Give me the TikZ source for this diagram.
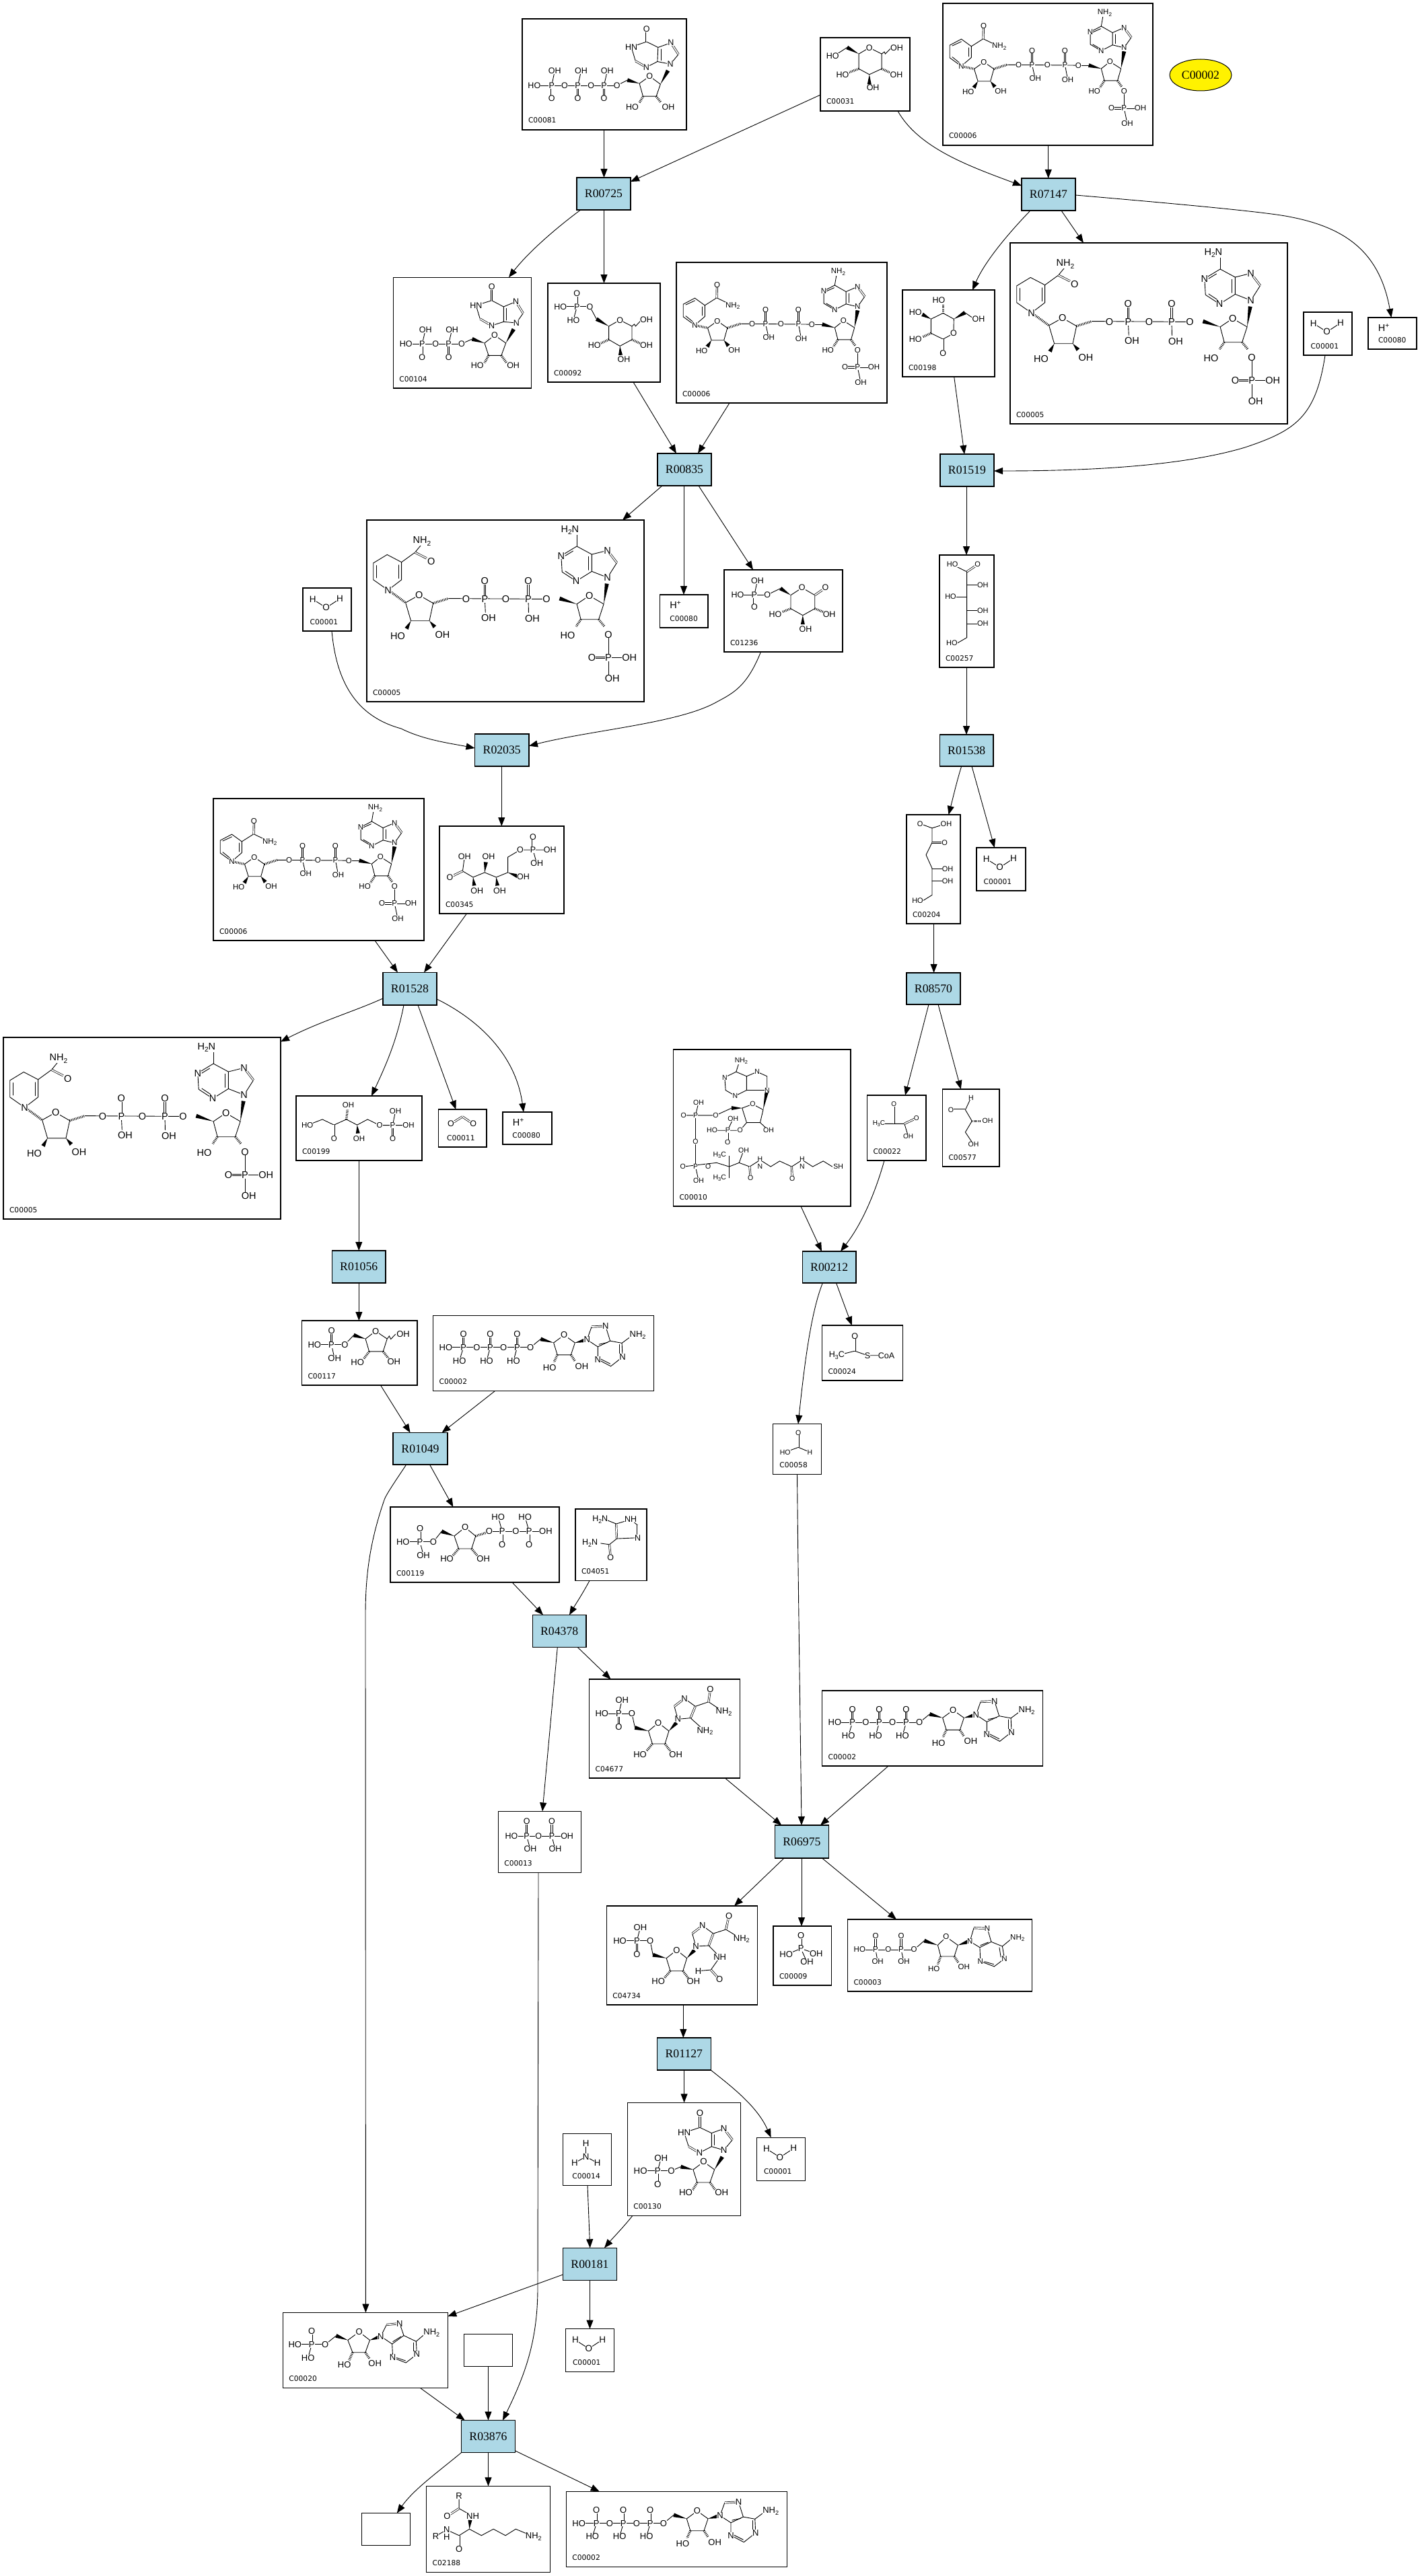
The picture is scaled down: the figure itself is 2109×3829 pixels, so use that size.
\documentclass[tikz,border=0pt]{standalone}
\usepackage{fontspec}
\usetikzlibrary{arrows.meta,calc,shapes.geometric}
\setmainfont{Liberation Serif}
\newfontfamily\atomfont{Liberation Sans}
\newfontfamily\labelfont{DejaVu Sans}
\definecolor{rxblue}{RGB}{173,216,230}
\newcount\atmc
\def\molfs{13}
\tikzset{
  bd/.style={line width=.9pt,line cap=round},
  dbd/.style={line width=.7pt,double,double distance=1.7pt},
  hashb/.style={line width=3.4pt,dash pattern=on .9pt off 1.5pt},
  atom/.style={inner sep=.2pt,outer sep=0pt,fill=white,font=\atomfont\fontsize{\molfs}{\molfs}\selectfont},
  cbox/.style={draw=black,fill=white,line width=1.1pt,inner sep=0pt,outer sep=0pt,rectangle},
  clabel/.style={inner sep=0pt,outer sep=0pt,anchor=base west,font=\labelfont\fontsize{10.7}{10.7}\selectfont},
  rxn/.style={draw=black,fill=rxblue,line width=1.1pt,inner sep=0pt,outer sep=0pt,rectangle,font=\fontsize{17.7}{17.7}\selectfont},
  edge/.style={draw=black,line width=.9pt,-{Triangle[length=13pt,width=10pt]}},
}
\newcommand\two{\raisebox{-.22em}{\scalebox{.7}{2}}}
\newcommand\thre{\raisebox{-.22em}{\scalebox{.7}{3}}}
\newcommand\plusup{\raisebox{.4em}{\scalebox{.7}{+}}}
\newcommand\bnd[1]{\draw[bd] #1;}
\newcommand\dbl[2]{\draw[dbd] #1 -- #2;}
\newcommand\hsh[2]{\draw[hashb] #1 -- #2;}
\newcommand\wdg[2]{\fill[black] #1 -- ($#2!3pt!90:#1$) -- ($#2!3pt!-90:#1$) -- cycle;}
\newcommand\atm[3]{\global\advance\atmc by 1 \node[atom] (at\the\atmc) at (#1,#2) {#3};}
\newcommand\Mol[8]{\def\molfs{#7}\pgfmathsetmacro\mx{1/#3}\pgfmathsetmacro\my{-1/#4}%
  \begin{scope}[shift={(#1,#2)},x=\mx pt,y=\my pt,shift={(-#5,-#6)}]#8\end{scope}}
\newcommand\cbox[7][9]{\pgfmathsetmacro\cx{(#3+#5)/2}\pgfmathsetmacro\cy{(#4+#6)/2}%
  \pgfmathsetmacro\cw{#5-#3}\pgfmathsetmacro\ch{#6-#4}\pgfmathsetmacro\lx{#3+#1}\pgfmathsetmacro\ly{#6-10}%
  \node[cbox,minimum width=\cw pt,minimum height=\ch pt] (#2) at (\cx,\cy) {};
  \node[clabel] (#2l) at (\lx,\ly) {#7};}
\newcommand\rbox[6]{\pgfmathsetmacro\cx{(#2+#4)/2}\pgfmathsetmacro\cy{(#3+#5)/2}%
  \pgfmathsetmacro\cw{#4-#2}\pgfmathsetmacro\ch{#5-#3}%
  \node[rxn,minimum width=\cw pt,minimum height=\ch pt] (#1) at (\cx,\cy) {#6};}
\newcommand\vv[4]{\draw[edge] (#1.south -| #2,0) -- (#3.north -| #4,0);}
% ---------- molecule bodies (coordinates of one zoomed copy)
\newcommand\NADbody{%
 \bnd{(68,163)--(105,141)--(137,167)--(137,207)--(105,238)--(68,208)--cycle}
 \bnd{(76,165)--(105,150)}\bnd{(128,172)--(128,203)}\bnd{(76,205)--(98,225)}
 \bnd{(137,167)--(175,140)--(226,168)}\dbl{(175,140)}{(176,93)}
 \bnd{(177,223)--(146,248)--(158,292)--(198,292)--(209,248)--cycle}
 \hsh{(105,238)}{(146,248)}\hsh{(209,248)}{(250,233)}
 \wdg{(158,292)}{(145,315)}\wdg{(198,292)}{(212,312)}
 \bnd{(250,233)--(479,235)}\bnd{(331,233)--(341,283)}\bnd{(436,233)--(445,286)}
 \dbl{(331,233)}{(331,182)}\dbl{(436,233)}{(436,182)}
 \wdg{(552,247)}{(512,235)}\bnd{(479,235)--(512,235)}
 \bnd{(580,222)--(552,247)--(562,290)--(604,290)--(615,247)--cycle}
 \wdg{(615,247)}{(625,185)}\hsh{(562,290)}{(548,315)}\hsh{(604,290)}{(618,313)}
 \bnd{(625,327)--(625,389)--(677,389)}\bnd{(625,389)--(635,443)}\dbl{(625,389)}{(585,389)}
 \bnd{(625,172)--(648,135)}\dbl{(648,135)}{(625,100)}\bnd{(625,100)--(588,118)--(588,162)--(625,172)}\bnd{(598,124)--(598,157)}
 \bnd{(588,118)--(552,95)--(517,115)--(517,160)--(552,183)--(588,162)}\bnd{(552,95)--(558,55)}
 \bnd{(525,160)--(548,175)}\bnd{(550,104)--(526,116)}
 \atm{176}{93}{O}\atm{226}{168}{NH\two}\atm{105}{238}{N}\atm{177}{223}{O}\atm{127}{329}{HO}\atm{231}{327}{OH}
 \atm{288}{233}{O}\atm{331}{233}{P}\atm{380}{233}{O}\atm{436}{233}{P}\atm{479}{235}{O}
 \atm{331}{182}{O}\atm{436}{182}{O}\atm{341}{283}{OH}\atm{445}{286}{OH}\atm{580}{222}{O}
 \atm{530}{327}{HO}\atm{625}{327}{O}\atm{625}{389}{P}\atm{585}{389}{O}\atm{677}{389}{OH}\atm{635}{443}{OH}
 \atm{625}{172}{N}\atm{625}{100}{N}\atm{552}{183}{N}\atm{517}{115}{N}\atm{563}{47}{NH\two}}
\newcommand\NADHbody{%
 \bnd{(326,993)--(282,1023)--(282,1083)--(329,1120)--(372,1083)--(372,1020)--cycle}
 \bnd{(291,1032)--(291,1076)}\bnd{(362,1030)--(362,1078)}
 \bnd{(372,1020)--(415,985)--(437,955)}\dbl{(415,985)}{(452,1006)}
 \hsh{(340,1128)}{(385,1165)}
 \bnd{(428,1138)--(385,1165)--(402,1230)--(461,1230)--(473,1167)--cycle}
 \hsh{(473,1167)}{(522,1150)}\wdg{(402,1230)}{(388,1258)}\wdg{(461,1230)}{(478,1252)}
 \bnd{(522,1150)--(835,1152)}\bnd{(638,1152)--(640,1200)}\bnd{(777,1152)--(778,1200)}
 \dbl{(638,1152)}{(638,1100)}\dbl{(777,1152)}{(777,1100)}
 \wdg{(932,1170)}{(877,1150)}
 \bnd{(972,1140)--(932,1170)--(945,1225)--(1002,1225)--(1018,1170)--cycle}
 \wdg{(1018,1170)}{(1028,1097)}\hsh{(945,1225)}{(930,1250)}\hsh{(1002,1225)}{(1020,1250)}
 \bnd{(1033,1279)--(1033,1436)}\bnd{(1033,1362)--(1100,1362)}\dbl{(1033,1362)}{(980,1362)}
 \bnd{(1030,1075)--(1060,1022)}\dbl{(1060,1022)}{(1030,978)}\bnd{(1030,978)--(980,992)--(980,1053)--(1030,1075)}
 \bnd{(980,992)--(932,963)--(882,997)--(885,1055)--(930,1088)--(980,1053)}\bnd{(932,963)--(932,920)}
 \bnd{(970,1000)--(970,1048)}\bnd{(895,1052)--(922,1072)}\bnd{(920,980)--(895,997)}
 \atm{437}{945}{NH\two}\atm{467}{1018}{O}\atm{329}{1120}{N}\atm{428}{1138}{O}\atm{360}{1284}{HO}\atm{503}{1279}{OH}
 \atm{578}{1152}{O}\atm{638}{1152}{P}\atm{705}{1152}{O}\atm{777}{1152}{P}\atm{835}{1152}{O}
 \atm{638}{1086}{O}\atm{777}{1086}{O}\atm{650}{1220}{OH}\atm{790}{1222}{OH}\atm{972}{1140}{O}
 \atm{903}{1282}{HO}\atm{1033}{1279}{O}\atm{1033}{1362}{P}\atm{980}{1362}{O}\atm{1100}{1362}{OH}\atm{1045}{1436}{OH}
 \atm{1030}{1075}{N}\atm{1030}{978}{N}\atm{930}{1088}{N}\atm{882}{997}{N}\atm{910}{905}{H\two N}}
\newcommand\ATPbody{%
 \bnd{(528,224)--(802,224)}\bnd{(585,224)--(572,267)}\bnd{(672,224)--(660,267)}\bnd{(759,224)--(747,267)}
 \dbl{(585,224)}{(585,181)}\dbl{(672,224)}{(672,181)}\dbl{(759,224)}{(759,181)}
 \bnd{(802,224)--(835,197)}\wdg{(877,209)}{(835,197)}
 \bnd{(911,184)--(877,209)--(889,248)--(933,248)--(946,209)--cycle}
 \wdg{(946,209)}{(978,201)}\hsh{(889,248)}{(878,272)}\hsh{(933,248)}{(947,270)}
 \bnd{(985,199)--(1000,157)}\dbl{(1000,157)}{(1045,155)}\bnd{(1045,155)--(1060,203)--(1020,222)--(985,199)}\bnd{(1052,208)--(1024,214)}
 \bnd{(1060,203)--(1098,210)--(1100,255)--(1062,285)--(1020,263)--(1020,222)}\bnd{(1098,210)--(1125,190)}
 \bnd{(1030,262)--(1060,277)}\bnd{(1090,250)--(1090,215)}
 \atm{528}{224}{HO}\atm{585}{224}{P}\atm{628}{224}{O}\atm{672}{224}{P}\atm{715}{224}{O}\atm{759}{224}{P}\atm{802}{224}{O}
 \atm{585}{181}{O}\atm{672}{181}{O}\atm{759}{181}{O}\atm{572}{267}{HO}\atm{660}{267}{HO}\atm{747}{267}{HO}
 \atm{911}{184}{O}\atm{864}{290}{HO}\atm{968}{285}{OH}\atm{985}{199}{N}\atm{1045}{155}{N}\atm{1020}{263}{N}\atm{1100}{255}{N}\atm{1149}{185}{NH\two}}
\newcommand\ADPbody{%
 \bnd{(890,355)--(1071,355)}\bnd{(943,355)--(950,408)}\bnd{(1028,355)--(1037,408)}
 \dbl{(943,355)}{(943,295)}\dbl{(1028,355)}{(1028,295)}
 \bnd{(1071,355)--(1105,315)}\wdg{(1150,335)}{(1105,315)}
 \bnd{(1178,298)--(1150,335)--(1160,385)--(1205,385)--(1217,335)--cycle}
 \wdg{(1217,335)}{(1250,320)}\hsh{(1160,385)}{(1150,420)}\hsh{(1205,385)}{(1218,412)}
 \bnd{(1257,318)--(1270,258)}\dbl{(1270,258)}{(1315,260)}\bnd{(1315,260)--(1328,320)--(1290,345)--(1257,318)}\bnd{(1318,322)--(1292,336)}
 \bnd{(1328,320)--(1365,340)--(1372,395)--(1338,430)--(1292,407)--(1290,345)}\bnd{(1365,340)--(1392,310)}
 \bnd{(1305,408)--(1336,420)}\bnd{(1360,388)--(1355,345)}
 \atm{890}{355}{HO}\atm{943}{355}{P}\atm{985}{355}{O}\atm{1028}{355}{P}\atm{1071}{355}{O}\atm{943}{295}{O}\atm{1028}{295}{O}\atm{950}{408}{OH}\atm{1037}{408}{OH}
 \atm{1178}{298}{O}\atm{1137}{442}{HO}\atm{1237}{433}{OH}\atm{1257}{318}{N}\atm{1315}{260}{N}\atm{1292}{407}{N}\atm{1372}{395}{N}\atm{1415}{302}{NH\two}}
\newcommand\AMPbody{%
 \bnd{(75,667)--(163,667)}\bnd{(124,667)--(113,719)}\dbl{(124,667)}{(124,615)}
 \bnd{(163,667)--(195,633)}\wdg{(229,650)}{(195,633)}
 \bnd{(262,618)--(229,650)--(243,698)--(280,698)--(293,650)--cycle}
 \wdg{(293,650)}{(320,638)}\hsh{(243,698)}{(233,728)}\hsh{(280,698)}{(292,722)}
 \bnd{(325,635)--(342,590)}\dbl{(342,590)}{(380,585)}\bnd{(380,585)--(392,632)--(358,665)--(325,635)}\bnd{(384,636)--(360,656)}
 \bnd{(392,632)--(428,655)--(430,705)--(398,738)--(360,718)--(358,665)}\bnd{(428,655)--(450,630)}
 \bnd{(370,718)--(397,730)}\bnd{(420,700)--(420,660)}
 \atm{75}{667}{HO}\atm{124}{667}{P}\atm{163}{667}{O}\atm{124}{615}{O}\atm{113}{719}{HO}\atm{262}{618}{O}\atm{219}{746}{HO}\atm{308}{740}{OH}
 \atm{325}{635}{N}\atm{380}{585}{N}\atm{360}{718}{N}\atm{430}{705}{N}\atm{473}{622}{NH\two}}
\newcommand\ITPbody{%
 \bnd{(75,333)--(350,333)}\bnd{(133,333)--(143,277)}\bnd{(220,333)--(231,277)}\bnd{(307,333)--(318,277)}
 \dbl{(133,333)}{(133,384)}\dbl{(220,333)}{(220,384)}\dbl{(307,333)}{(307,384)}
 \bnd{(350,333)--(385,312)}\wdg{(425,325)}{(385,312)}
 \bnd{(459,297)--(425,325)--(437,375)--(481,375)--(495,328)--cycle}
 \wdg{(495,328)}{(520,275)}\hsh{(437,375)}{(425,400)}\hsh{(481,375)}{(497,400)}
 \bnd{(528,250)--(555,212)}\dbl{(555,212)}{(530,167)}\bnd{(530,167)--(487,185)--(485,240)--(528,250)}\bnd{(497,192)--(497,235)}
 \bnd{(487,185)--(449,163)--(398,183)--(412,238)}\dbl{(412,238)}{(448,262)}\bnd{(448,262)--(485,240)}\dbl{(449,163)}{(449,113)}
 \atm{75}{333}{HO}\atm{133}{333}{P}\atm{176}{333}{O}\atm{220}{333}{P}\atm{264}{333}{O}\atm{307}{333}{P}\atm{350}{333}{O}
 \atm{143}{277}{OH}\atm{231}{277}{OH}\atm{318}{277}{OH}\atm{133}{384}{O}\atm{220}{384}{O}\atm{307}{384}{O}
 \atm{459}{297}{O}\atm{401}{416}{HO}\atm{521}{416}{OH}\atm{528}{250}{N}\atm{530}{167}{N}\atm{448}{262}{N}\atm{398}{183}{HN}\atm{449}{113}{O}}
\newcommand\IDPbody{%
 \bnd{(100,333)--(348,333)}\bnd{(172,333)--(187,270)}\bnd{(290,333)--(305,270)}
 \dbl{(172,333)}{(172,393)}\dbl{(290,333)}{(290,393)}
 \bnd{(348,333)--(395,312)}\wdg{(450,330)}{(395,312)}
 \bnd{(495,295)--(450,330)--(468,385)--(525,385)--(545,330)--cycle}
 \wdg{(545,330)}{(580,268)}\hsh{(468,385)}{(450,418)}\hsh{(525,385)}{(548,418)}
 \bnd{(592,240)--(622,197)}\dbl{(622,197)}{(590,145)}\bnd{(590,145)--(535,168)--(535,235)--(592,240)}\bnd{(547,175)--(547,228)}
 \bnd{(535,168)--(482,140)--(412,162)--(430,222)}\dbl{(430,222)}{(482,252)}\bnd{(482,252)--(535,235)}\dbl{(482,140)}{(482,80)}
 \atm{100}{333}{HO}\atm{172}{333}{P}\atm{232}{333}{O}\atm{290}{333}{P}\atm{348}{333}{O}\atm{187}{270}{OH}\atm{305}{270}{OH}\atm{172}{393}{O}\atm{290}{393}{O}
 \atm{495}{295}{O}\atm{418}{430}{HO}\atm{578}{430}{OH}\atm{592}{240}{N}\atm{590}{145}{N}\atm{482}{252}{N}\atm{412}{162}{HN}\atm{482}{80}{O}}
\newcommand\IMPbody{%
 \bnd{(395,380)--(533,380)}\bnd{(472,380)--(487,323)}\dbl{(472,380)}{(472,440)}
 \bnd{(533,380)--(575,362)}\wdg{(630,375)}{(575,362)}
 \bnd{(677,340)--(630,375)--(648,432)--(705,432)--(725,375)--cycle}
 \wdg{(725,375)}{(760,318)}\hsh{(648,432)}{(628,465)}\hsh{(705,432)}{(728,465)}
 \bnd{(767,288)--(805,242)}\dbl{(805,242)}{(767,192)}\bnd{(767,192)--(712,212)--(712,272)--(767,288)}\bnd{(724,219)--(724,265)}
 \bnd{(712,212)--(660,187)--(590,210)--(610,272)}\dbl{(610,272)}{(658,300)}\bnd{(658,300)--(712,272)}\dbl{(660,187)}{(660,123)}
 \atm{395}{380}{HO}\atm{472}{380}{P}\atm{533}{380}{O}\atm{487}{323}{OH}\atm{472}{440}{O}\atm{677}{340}{O}\atm{597}{478}{HO}\atm{757}{478}{OH}
 \atm{767}{288}{N}\atm{767}{192}{N}\atm{658}{300}{N}\atm{590}{210}{HN}\atm{660}{123}{O}}
\newcommand\GLCbody{%
 \bnd{(1192,186)--(1157,210)--(1157,268)--(1192,290)--(1233,268)--(1233,210)--cycle}
 \wdg{(1157,210)}{(1118,185)}\bnd{(1118,185)--(1085,210)}
 \hsh{(1157,268)}{(1122,283)}\hsh{(1233,268)}{(1262,283)}\wdg{(1192,290)}{(1192,328)}
 \bnd{(1233,210)--(1242,202)--(1245,210)--(1262,190)}
 \atm{1070}{219}{HO}\atm{1192}{186}{O}\atm{1283}{186}{OH}\atm{1103}{291}{HO}\atm{1282}{291}{OH}\atm{1204}{342}{OH}}
\newcommand\GSPbody{%
 \bnd{(162,1192)--(260,1192)}\bnd{(217,1192)--(205,1244)}\dbl{(217,1192)}{(217,1140)}\bnd{(260,1192)--(282,1240)}\wdg{(323,1268)}{(282,1240)}
 \bnd{(360,1244)--(323,1268)--(323,1320)--(360,1345)--(400,1320)--(400,1268)--cycle}
 \hsh{(323,1320)}{(295,1335)}\hsh{(400,1320)}{(428,1335)}\wdg{(360,1345)}{(362,1380)}
 \bnd{(400,1268)--(408,1260)--(412,1268)--(428,1248)}
 \atm{162}{1192}{HO}\atm{217}{1192}{P}\atm{260}{1192}{O}\atm{217}{1140}{O}\atm{205}{1244}{HO}\atm{360}{1244}{O}\atm{448}{1242}{OH}\atm{275}{1343}{HO}\atm{448}{1342}{OH}\atm{373}{1396}{OH}}
\newcommand\GLAbody{%
 \bnd{(1472,1296)--(1437,1318)--(1397,1295)--(1397,1240)--(1437,1217)--(1473,1240)--cycle}
 \dbl{(1437,1318)}{(1437,1372)}\hsh{(1437,1217)}{(1437,1185)}\wdg{(1397,1240)}{(1368,1222)}\hsh{(1397,1295)}{(1368,1310)}
 \wdg{(1473,1240)}{(1510,1215)}\bnd{(1510,1215)--(1535,1235)}
 \atm{1472}{1296}{O}\atm{1437}{1372}{O}\atm{1423}{1166}{HO}\atm{1345}{1215}{HO}\atm{1345}{1317}{HO}\atm{1555}{1241}{OH}}
\newcommand\LACTbody{%
 \bnd{(1110,403)--(1197,403)}\bnd{(1159,403)--(1168,340)}\dbl{(1159,403)}{(1159,459)}\bnd{(1197,403)--(1235,375)}\wdg{(1265,405)}{(1235,375)}
 \bnd{(1298,372)--(1265,405)--(1265,465)--(1300,495)--(1335,465)--(1335,405)--cycle}
 \dbl{(1335,405)}{(1366,372)}\hsh{(1265,465)}{(1240,480)}\hsh{(1335,465)}{(1360,480)}\wdg{(1300,495)}{(1300,535)}
 \atm{1168}{340}{OH}\atm{1110}{403}{HO}\atm{1159}{403}{P}\atm{1197}{403}{O}\atm{1159}{459}{O}\atm{1298}{372}{O}\atm{1366}{372}{O}\atm{1220}{492}{HO}\atm{1377}{492}{OH}\atm{1308}{557}{OH}}
\newcommand\PGbody{%
 \bnd{(1203,249)--(1198,300)--(1225,322)--(1255,305)--(1285,322)--(1315,305)--(1315,250)--(1347,224)--(1424,224)}
 \dbl{(1198,300)}{(1165,322)}\bnd{(1380,224)--(1390,273)}\dbl{(1380,224)}{(1380,177)}
 \wdg{(1225,322)}{(1228,352)}\wdg{(1255,305)}{(1258,268)}\wdg{(1285,322)}{(1288,352)}\wdg{(1315,305)}{(1340,318)}
 \atm{1203}{249}{OH}\atm{1165}{322}{O}\atm{1347}{224}{O}\atm{1380}{224}{P}\atm{1380}{177}{O}\atm{1424}{224}{OH}\atm{1390}{273}{OH}
 \atm{1235}{371}{OH}\atm{1265}{249}{OH}\atm{1294}{371}{OH}\atm{1355}{321}{OH}}
\newcommand\RuPbody{%
 \bnd{(796,1211)--(835,1190)--(865,1210)--(897,1190)--(925,1210)--(952,1190)--(983,1211)--(1058,1211)}
 \dbl{(865,1210)}{(865,1258)}\hsh{(897,1190)}{(900,1155)}\wdg{(925,1210)}{(927,1240)}\bnd{(1017,1211)--(1024,1161)}\dbl{(1017,1211)}{(1017,1258)}
 \atm{796}{1211}{HO}\atm{865}{1258}{O}\atm{902}{1138}{OH}\atm{930}{1258}{OH}\atm{983}{1211}{O}\atm{1017}{1211}{P}\atm{1024}{1161}{OH}\atm{1058}{1211}{OH}\atm{1017}{1258}{O}}
\newcommand\COOObody{%
 \dbl{(1167,1206)}{(1197,1180)}\dbl{(1197,1180)}{(1225,1206)}\atm{1167}{1206}{O}\atm{1225}{1206}{O}}
\newcommand\RFPbody{%
 \bnd{(103,216)--(201,216)}\bnd{(158,216)--(168,261)}\dbl{(158,216)}{(158,171)}\bnd{(201,216)--(230,185)}\wdg{(268,197)}{(230,185)}
 \bnd{(301,172)--(268,197)--(280,238)--(325,238)--(338,197)--cycle}
 \hsh{(280,238)}{(262,262)}\hsh{(325,238)}{(342,260)}\bnd{(338,197)--(345,188)--(350,198)--(365,182)}
 \atm{103}{216}{HO}\atm{158}{216}{P}\atm{201}{216}{O}\atm{158}{171}{O}\atm{168}{261}{OH}\atm{301}{172}{O}\atm{390}{181}{OH}\atm{242}{272}{HO}\atm{360}{270}{OH}}
\newcommand\PRPPbody{%
 \bnd{(390,854)--(488,854)}\bnd{(445,854)--(456,897)}\dbl{(445,854)}{(445,810)}\bnd{(488,854)--(515,820)}\wdg{(556,835)}{(515,820)}
 \bnd{(591,807)--(556,835)--(570,876)--(612,876)--(625,835)--cycle}
 \hsh{(570,876)}{(550,900)}\hsh{(612,876)}{(630,898)}\hsh{(625,835)}{(657,825)}
 \bnd{(669,820)--(852,820)}\bnd{(711,820)--(698,773)}\bnd{(798,820)--(785,773)}\dbl{(711,820)}{(711,862)}\dbl{(798,820)}{(798,862)}
 \atm{390}{854}{HO}\atm{445}{854}{P}\atm{488}{854}{O}\atm{445}{810}{O}\atm{456}{897}{OH}\atm{591}{807}{O}\atm{532}{908}{HO}\atm{650}{908}{OH}
 \atm{669}{820}{O}\atm{711}{820}{P}\atm{755}{820}{O}\atm{798}{820}{P}\atm{852}{820}{OH}\atm{698}{773}{HO}\atm{785}{773}{HO}\atm{711}{862}{O}\atm{798}{862}{O}}
\newcommand\AICbody{%
 \bnd{(1080,795)--(1127,781)--(1150,800)}\dbl{(1150,800)}{(1150,840)}\bnd{(1150,840)--(1082,843)}\dbl{(1080,795)}{(1082,843)}
 \bnd{(1080,795)--(1045,781)}\bnd{(1082,843)--(1058,862)--(1030,858)}\dbl{(1058,862)}{(1062,904)}
 \atm{1028}{781}{H\two N}\atm{1127}{781}{NH}\atm{1150}{840}{N}\atm{995}{858}{H\two N}\atm{1062}{904}{O}}
\newcommand\AIRbody{%
 \bnd{(77,202)--(177,202)}\bnd{(133,202)--(144,142)}\dbl{(133,202)}{(133,262)}\bnd{(177,202)--(187,265)}\wdg{(232,280)}{(187,265)}
 \bnd{(265,243)--(232,280)--(245,337)--(287,337)--(300,280)--cycle}
 \hsh{(245,337)}{(225,370)}\hsh{(287,337)}{(305,370)}\wdg{(300,280)}{(325,243)}
 \bnd{(330,227)--(318,170)}\dbl{(318,170)}{(352,135)}\bnd{(352,135)--(388,170)}\dbl{(388,170)}{(372,222)}\bnd{(372,222)--(330,227)}
 \bnd{(372,222)--(420,280)}\bnd{(388,170)--(432,150)--(483,195)}\dbl{(432,150)}{(438,94)}
 \atm{77}{202}{HO}\atm{133}{202}{P}\atm{177}{202}{O}\atm{144}{142}{OH}\atm{133}{262}{O}\atm{265}{243}{O}\atm{204}{385}{HO}\atm{323}{385}{OH}
 \atm{330}{227}{N}\atm{352}{135}{N}\atm{420}{280}{NH\two}\atm{438}{94}{O}\atm{483}{195}{NH\two}}
\newcommand\FAIRbody{%
 \bnd{(92,315)--(193,315)}\bnd{(149,315)--(160,255)}\dbl{(149,315)}{(149,375)}\bnd{(193,315)--(202,378)}\wdg{(247,393)}{(202,378)}
 \bnd{(281,357)--(247,393)--(260,450)--(302,450)--(315,393)--cycle}
 \hsh{(260,450)}{(240,482)}\hsh{(302,450)}{(320,482)}\wdg{(315,393)}{(340,357)}
 \bnd{(345,340)--(333,283)}\dbl{(333,283)}{(367,248)}\bnd{(367,248)--(403,283)}\dbl{(403,283)}{(388,337)}\bnd{(388,337)--(345,340)}
 \bnd{(388,337)--(425,388)--(395,445)--(353,450)}\dbl{(395,445)}{(424,488)}\bnd{(403,283)--(445,265)--(497,307)}\dbl{(445,265)}{(455,205)}
 \atm{92}{315}{HO}\atm{149}{315}{P}\atm{193}{315}{O}\atm{160}{255}{OH}\atm{149}{375}{O}\atm{281}{357}{O}\atm{220}{497}{HO}\atm{337}{497}{OH}
 \atm{345}{340}{N}\atm{367}{248}{N}\atm{455}{205}{O}\atm{497}{307}{NH\two}\atm{425}{388}{NH}\atm{353}{450}{H}\atm{424}{488}{O}}
\newcommand\PIbody{%
 \bnd{(647,377)--(696,350)--(747,373)}\bnd{(696,350)--(716,410)}\dbl{(696,350)}{(696,293)}
 \atm{696}{293}{O}\atm{696}{350}{P}\atm{647}{377}{HO}\atm{747}{373}{OH}\atm{716}{410}{OH}}
\newcommand\WATERbody{\bnd{(957,282)--(1017,320)--(1078,280)}\atm{957}{282}{H}\atm{1017}{320}{O}\atm{1078}{280}{H}}
\newcommand\NHbody{\bnd{(152,258)--(152,317)}\bnd{(102,345)--(152,317)--(203,345)}\atm{152}{258}{H}\atm{152}{317}{N}\atm{102}{345}{H}\atm{203}{345}{H}}
\newcommand\GLUCARbody{%
 \bnd{(974,47)--(1022,60)}\dbl{(1022,60)}{(1058,47)}\bnd{(1022,60)--(1022,178)--(990,188)}
 \bnd{(1022,84)--(1060,84)}\bnd{(1022,105)--(985,105)}\bnd{(1022,130)--(1060,130)}\bnd{(1022,153)--(1060,153)}
 \atm{974}{47}{HO}\atm{1058}{47}{O}\atm{1075}{84}{OH}\atm{968}{105}{HO}\atm{1075}{130}{OH}\atm{1075}{153}{OH}\atm{972}{188}{HO}}
\newcommand\KDbody{%
 \bnd{(868,512)--(908,520)--(955,512)}\bnd{(908,520)--(908,546)--(888,568)--(908,592)--(908,640)--(878,650)}\dbl{(908,546)}{(950,546)}
 \bnd{(908,593)--(945,593)}\bnd{(908,615)--(945,615)}
 \atm{868}{512}{O}\atm{955}{512}{OH}\atm{950}{546}{O}\atm{960}{593}{OH}\atm{960}{615}{OH}\atm{860}{650}{HO}}
\newcommand\PYRbody{%
 \bnd{(730,1050)--(780,1050)--(815,1050)--(828,1073)}\dbl{(780,1050)}{(780,1015)}\dbl{(815,1050)}{(855,1040)}
 \atm{780}{1015}{O}\atm{730}{1050}{H\thre C}\atm{855}{1040}{O}\atm{828}{1073}{OH}}
\newcommand\GLYbody{%
 \bnd{(1037,1003)--(1018,1025)--(1040,1045)--(1018,1065)--(1045,1087)}\dbl{(1018,1025)}{(970,1025)}\hsh{(1040,1045)}{(1075,1045)}
 \atm{1037}{1003}{H}\atm{970}{1025}{O}\atm{1092}{1045}{OH}\atm{1045}{1087}{OH}}
\newcommand\COAbody{%
 \bnd{(255,957)--(217,967)--(220,990)--(252,1000)--(290,990)--(290,965)--cycle}\bnd{(255,957)--(265,940)}
 \bnd{(290,965)--(325,957)--(358,965)--(358,990)--(290,990)}
 \bnd{(310,1015)--(275,1022)--(290,1048)--(335,1048)--(345,1025)--cycle}\wdg{(345,1025)}{(358,990)}\bnd{(335,1048)--(363,1062)}
 \bnd{(290,1048)--(268,1062)--(175,1062)}\bnd{(227,1062)--(245,1041)}\dbl{(227,1062)}{(227,1083)}
 \wdg{(275,1022)}{(240,1022)}\bnd{(240,1022)--(187,1035)--(80,1035)}\bnd{(120,1035)--(130,1012)}\bnd{(120,1035)--(120,1127)}
 \bnd{(78,1127)--(190,1120)--(232,1127)--(265,1120)--(300,1127)--(335,1115)--(370,1127)--(400,1117)--(440,1127)--(475,1115)--(510,1127)--(545,1117)--(575,1127)}
 \bnd{(120,1127)--(130,1152)}\bnd{(232,1108)--(232,1147)}\bnd{(265,1120)--(280,1098)}\dbl{(300,1127)}{(303,1147)}\dbl{(440,1127)}{(442,1148)}
 \atm{272}{937}{NH\two}\atm{217}{967}{N}\atm{252}{1000}{N}\atm{325}{957}{N}\atm{358}{990}{N}\atm{310}{1015}{O}\atm{363}{1062}{OH}
 \atm{268}{1062}{O}\atm{227}{1062}{P}\atm{175}{1062}{HO}\atm{245}{1041}{OH}\atm{227}{1083}{O}
 \atm{187}{1035}{O}\atm{120}{1035}{P}\atm{130}{1012}{OH}\atm{80}{1035}{O}\atm{120}{1082}{O}\atm{120}{1127}{P}\atm{78}{1127}{O}\atm{130}{1152}{OH}\atm{162}{1127}{O}
 \atm{200}{1106}{H\thre C}\atm{200}{1147}{H\thre C}\atm{280}{1098}{OH}\atm{303}{1147}{O}\atm{335}{1113}{H}\atm{335}{1127}{N}\atm{442}{1148}{O}\atm{475}{1113}{H}\atm{475}{1127}{N}\atm{595}{1127}{SH}}
\newcommand\ACCbody{%
 \bnd{(590,1465)--(650,1457)--(692,1465)--(755,1465)}\dbl{(650,1457)}{(650,1430)}
 \atm{650}{1430}{O}\atm{590}{1465}{H\thre C}\atm{692}{1465}{S}\atm{755}{1465}{CoA}}
\newcommand\LYSbody{%
 \bnd{(553,1270)--(553,1305)--(593,1335)}\dbl{(553,1305)}{(518,1335)}\wdg{(583,1385)}{(585,1350)}
 \bnd{(517,1388)--(553,1410)--(583,1385)--(618,1410)--(653,1385)--(688,1410)--(718,1385)--(770,1414)}\dbl{(553,1410)}{(553,1463)}\bnd{(485,1412)--(517,1388)}
 \atm{553}{1257}{R}\atm{518}{1335}{O}\atm{593}{1335}{NH}\atm{485}{1412}{R}\atm{517}{1388}{N}\atm{517}{1415}{H}\atm{553}{1463}{O}\atm{770}{1414}{NH\two}}
\newcommand\FORMbody{%
 \bnd{(1310,131)--(1369,115)--(1420,131)}\dbl{(1369,115)}{(1369,66)}\atm{1369}{66}{O}\atm{1310}{131}{HO}\atm{1420}{131}{H}}
\newcommand\PPbody{%
 \bnd{(90,1410)--(338,1410)}\bnd{(158,1410)--(174,1453)}\bnd{(270,1410)--(285,1453)}\dbl{(158,1410)}{(158,1360)}\dbl{(270,1410)}{(270,1360)}
 \atm{158}{1360}{O}\atm{158}{1410}{P}\atm{90}{1410}{HO}\atm{174}{1453}{OH}\atm{211}{1410}{O}\atm{270}{1410}{P}\atm{270}{1360}{O}\atm{338}{1410}{OH}\atm{285}{1453}{OH}}
\begin{document}
\begin{tikzpicture}[x=1pt,y=-1pt]
\useasboundingbox (0,0) rectangle (2109,3829);
\fill[white] (0,0) rectangle (2109,3829);
% ---- reactions
\rbox{r00725}{857}{264}{937}{312}{R00725}
\rbox{r07147}{1518}{265}{1598}{313}{R07147}
\rbox{r00835}{977}{674}{1057}{722}{R00835}
\rbox{r01519}{1397}{675}{1477}{723}{R01519}
\rbox{r02035}{705.5}{1091}{786}{1139}{R02035}
\rbox{r01538}{1396.5}{1092}{1476}{1139}{R01538}
\rbox{r01528}{569}{1445.5}{649}{1494}{R01528}
\rbox{r08570}{1347}{1446}{1427}{1493}{R08570}
\rbox{r01056}{493.5}{1859}{573}{1907}{R01056}
\rbox{r00212}{1192.5}{1860}{1272}{1907}{R00212}
\rbox{r01049}{584}{2129.6}{665}{2177}{R01049}
\rbox{r04378}{791.4}{2400.5}{871}{2448.7}{R04378}
\rbox{r06975}{1151.5}{2713}{1231.4}{2762}{R06975}
\rbox{r01127}{976.4}{3029}{1056.3}{3077}{R01127}
\rbox{r00181}{836.3}{3341.3}{916.7}{3389.3}{R00181}
\rbox{r03876}{685.7}{3597.6}{765.3}{3645.4}{R03876}
\node[draw=black,fill=yellow,line width=1pt,ellipse,inner sep=0pt,minimum width=92pt,minimum height=47pt,font=\fontsize{17.7}{17.7}\selectfont] (c00002e) at (1784,111.5) {C00002};
% ---- compounds
\cbox{c00081}{776}{28}{1020}{193}{C00081}
\cbox{c00031}{1219}{56}{1352}{165}{C00031}
\cbox{c00006a}{1401}{5}{1713}{216}{C00006}
\cbox{c00104}{584.3}{412.3}{789.7}{577}{C00104}
\cbox{c00092}{814}{421}{981}{568}{C00092}
\cbox{c00006b}{1005}{390}{1318}{599}{C00006}
\cbox{c00198}{1341}{431}{1478}{560}{C00198}
\cbox{c00005a}{1501}{361}{1913}{630}{C00005}
\cbox[10.7]{c00001a}{1937}{464}{2009}{528}{C00001}
\cbox[15]{c00080a}{2033}{472}{2105}{519}{C00080}
\cbox{c00005b}{545}{773}{957}{1043}{C00005}
\cbox[14.8]{c00080b}{980.5}{884}{1052}{933}{C00080}
\cbox{c01236}{1076}{847}{1252}{969}{C01236}
\cbox[10.7]{c00001b}{450}{874}{522}{938}{C00001}
\cbox{c00257}{1396}{825}{1477}{992}{C00257}
\cbox{c00006c}{317}{1187}{630}{1398}{C00006}
\cbox{c00345}{653}{1228}{838}{1358}{C00345}
\cbox{c00204}{1347}{1211}{1427}{1373}{C00204}
\cbox[10.7]{c00001c}{1451}{1260}{1524}{1324}{C00001}
\cbox{c00005c}{5}{1542}{417}{1812}{C00005}
\cbox{c00199}{440}{1629}{627}{1725}{C00199}
\cbox[12.6]{c00011}{651.5}{1649}{723}{1705}{C00011}
\cbox[14.4]{c00080c}{747}{1653}{820}{1701}{C00080}
\cbox{c00010}{1000.5}{1560}{1264}{1793}{C00010}
\cbox{c00022}{1288.5}{1628}{1376}{1725}{C00022}
\cbox{c00577}{1400.5}{1619}{1485}{1734}{C00577}
\cbox{c00024}{1221.5}{1970}{1341.6}{2052}{C00024}
\cbox{c00117}{448.5}{1963}{620}{2059}{C00117}
\cbox{c00002a}{643.6}{1955.5}{971.4}{2067.6}{C00002}
\cbox[10]{c00058}{1148.3}{2116.5}{1220.7}{2191.5}{C00058}
\cbox{c00119}{580}{2240}{831}{2352}{C00119}
\cbox{c04051}{855}{2243}{961}{2349.5}{C04051}
\cbox{c04677}{875.6}{2496}{1099.7}{2643}{C04677}
\cbox{c00002b}{1221.6}{2513}{1549.7}{2625}{C00002}
\cbox{c00013}{740.3}{2692.4}{863.7}{2783.5}{C00013}
\cbox{c04734}{901.4}{2833}{1125.5}{2980}{C04734}
\cbox{c00009}{1149}{2863}{1235.4}{2951}{C00009}
\cbox{c00003}{1259.5}{2853}{1533.7}{2960}{C00003}
\cbox{c00130}{932.3}{3125.3}{1100.3}{3293.3}{C00130}
\cbox[14]{c00014}{836.3}{3171.3}{908.7}{3248.3}{C00014}
\cbox[10.7]{c00001d}{1124.3}{3177.3}{1196.7}{3241.3}{C00001}
\cbox{c00020}{420.4}{3437.5}{665.3}{3549.5}{C00020}
\cbox[10.7]{c00001e}{840.3}{3461.6}{912.2}{3525.4}{C00001}
\cbox{c02188}{633.7}{3695.4}{817.3}{3823.4}{C02188}
\cbox{c00002c}{841.3}{3703.4}{1169.4}{3815.4}{C00002}
\node[cbox,minimum width=72.4pt,minimum height=47.8pt] (blanka) at (725.5,3493.5) {};
\node[cbox,minimum width=72.5pt,minimum height=47.8pt] (blankb) at (573.4,3759.4) {};
% ---- molecules
\Mol{776}{28}{2.24}{2.613}{35}{74}{12.5}{\ITPbody}
\Mol{1219}{56}{2.24}{2.613}{1029}{147}{12.5}{\GLCbody}
\Mol{1401}{5}{2.15}{2.41}{46}{13}{11.5}{\NADbody}
\Mol{1005}{390}{2.15}{2.41}{46}{13}{11.5}{\NADbody}
\Mol{317}{1187}{2.15}{2.41}{46}{13}{11.5}{\NADbody}
\Mol{584.3}{412.3}{3}{3}{43}{37}{12.5}{\IDPbody}
\Mol{814}{421}{2.24}{2.613}{120}{1101}{12.5}{\GSPbody}
\Mol{1341}{431}{2.24}{2.613}{1302}{1127}{12.5}{\GLAbody}
\Mol{1501}{361}{2.15}{2.41}{261}{869}{14.5}{\NADHbody}
\Mol{545}{773}{2.15}{2.41}{261}{869}{14.5}{\NADHbody}
\Mol{5}{1542}{2.15}{2.41}{261}{869}{14.5}{\NADHbody}
\Mol{1937}{464}{3}{3}{913}{232}{13.5}{\WATERbody}
\Mol{450}{874}{3}{3}{913}{232}{13.5}{\WATERbody}
\Mol{1451}{1260}{3}{3}{913}{232}{13.5}{\WATERbody}
\Mol{1124.3}{3177.3}{3}{3}{913}{232}{13.5}{\WATERbody}
\Mol{840.3}{3461.6}{3}{3}{913}{232}{13.5}{\WATERbody}
\Mol{2033}{472}{1}{1}{0}{0}{14.5}{\atm{23}{15}{H\plusup}}
\Mol{980.5}{884}{1}{1}{0}{0}{14.5}{\atm{23}{15}{H\plusup}}
\Mol{747}{1653}{1}{1}{0}{0}{14.5}{\atm{23}{15}{H\plusup}}
\Mol{1076}{847}{1.96}{3}{1071}{292}{12.5}{\LACTbody}
\Mol{1396}{825}{2.24}{1.206}{931}{30}{11}{\GLUCARbody}
\Mol{653}{1228}{1.742}{2.41}{1138}{139}{12.5}{\PGbody}
\Mol{1347}{1211}{2.24}{1.206}{823}{496}{11}{\KDbody}
\Mol{440}{1629}{1.742}{2.41}{767}{1106}{11.5}{\RuPbody}
\Mol{651.5}{1649}{1.742}{2.41}{1135}{1154}{12.5}{\COOObody}
\Mol{1000.5}{1560}{2.24}{1.206}{46}{917}{10.5}{\COAbody}
\Mol{1288.5}{1628}{2.24}{1.206}{691}{999}{10}{\PYRbody}
\Mol{1400.5}{1619}{2.24}{1.206}{942}{988}{10.5}{\GLYbody}
\Mol{1221.5}{1970}{2.24}{1.206}{541}{1411}{12.5}{\ACCbody}
\Mol{448.5}{1963}{2.178}{2.178}{62}{138}{13}{\RFPbody}
\Mol{643.6}{1955.5}{2.178}{2.178}{487}{121}{13}{\ATPbody}
\Mol{1221.6}{2513}{2.178}{2.178}{487}{121}{13}{\ATPbody}
\Mol{841.3}{3703.4}{2.178}{2.178}{487}{121}{13}{\ATPbody}
\Mol{1148.3}{2116.5}{3}{2.24}{1255}{37}{10.5}{\FORMbody}
\Mol{580}{2240}{2.178}{2.178}{349}{741}{13}{\PRPPbody}
\Mol{855}{2243}{2.178}{2.178}{948}{747}{12.5}{\AICbody}
\Mol{875.6}{2496}{2.24}{3}{35}{49}{13}{\AIRbody}
\Mol{740.3}{2692.4}{3}{2.24}{31}{1327}{12.5}{\PPbody}
\Mol{901.4}{2833}{2.24}{3}{48}{160}{13}{\FAIRbody}
\Mol{1149}{2863}{2.24}{3}{604}{250}{13}{\PIbody}
\Mol{1259.5}{2853}{2.24}{3}{850}{220}{11.5}{\ADPbody}
\Mol{932.3}{3125.3}{3}{3}{337}{76}{13.3}{\IMPbody}
\Mol{836.3}{3171.3}{3}{3}{49}{214}{13.3}{\NHbody}
\Mol{420.4}{3437.5}{1.96}{2.617}{40}{543}{13}{\AMPbody}
\Mol{633.7}{3695.4}{1.96}{2.617}{458}{1218}{13}{\LYSbody}
% ---- connectors
\vv{c00081}{897.5}{r00725}{897.5}
\draw[edge] (c00031.west |- 0,141) -- (r00725.east |- 0,270);
\draw[edge] (c00031.south -| 1334,0) .. controls (1365,220) and (1440,247) .. (r07147.west |- 0,276);
\vv{c00006a}{1557.7}{r07147}{1557.7}
\draw[edge] (r07147.south -| 1531,0) .. controls (1505,340) and (1465,385) .. (c00198.north -| 1445,0);
\vv{r07147}{1577}{c00005a}{1610}
\draw[edge] (r07147.east |- 0,290) .. controls (1750,303) and (1880,315) .. (1915,322) .. controls (2000,338) and (2050,375) .. (c00080a.north -| 2067.4,0);
\vv{c00198}{1417.7}{r01519}{1433}
\draw[edge] (c00001a.south -| 1969,0) .. controls (1955,620) and (1925,640) .. (1850,665) .. controls (1750,695) and (1600,700) .. (r01519.east |- 0,700);
\draw[edge] (r00725.south -| 862.7,0) .. controls (825,340) and (785,375) .. (c00104.north -| 756,0);
\vv{r00725}{897.5}{c00092}{897.5}
\vv{c00092}{941}{r00835}{1005}
\vv{c00006b}{1084}{r00835}{1037}
\vv{r00835}{984}{c00005b}{925}
\vv{r00835}{1016}{c00080b}{1016}
\vv{r00835}{1038}{c01236}{1119}
\draw[edge] (c01236.south -| 1130.5,0) .. controls (1110,1020) and (1090,1030) .. (1065.7,1043) .. controls (1010,1075) and (880,1085) .. (r02035.east |- 0,1108.7);
\draw[edge] (c00001b.south -| 493,0) .. controls (500,1015) and (530,1065) .. (596,1083) .. controls (630,1100) and (670,1105) .. (r02035.west |- 0,1112);
\vv{r02035}{745.3}{c00345}{745.3}
\vv{c00006c}{557}{r01528}{591}
\vv{c00345}{693.5}{r01528}{630}
\draw[edge] (r01528.west |- 0,1484) .. controls (530,1502) and (476,1518) .. (c00005c.east |- 0,1548.4);
\draw[edge] (r01528.south -| 600,0) .. controls (590,1545) and (575,1580) .. (c00199.north -| 552,0);
\vv{r01528}{621}{c00011}{677.4}
\draw[edge] (r01528.east |- 0,1485) .. controls (700,1510) and (765,1560) .. (c00080c.north -| 778,0);
\vv{c00199}{533.3}{r01056}{533.3}
\vv{r01056}{533.4}{c00117}{533.4}
\vv{c00117}{565.5}{r01049}{609.6}
\vv{c00002a}{735.4}{r01049}{656.5}
\vv{r01049}{638.5}{c00119}{673.4}
\draw[edge] (r01049.south -| 603.7,0) .. controls (585,2205) and (575,2220) .. (571.5,2228) .. controls (550,2290) and (543,2340) .. (543,2400) -- (c00020.north -| 543.4,0);
\vv{c00119}{761}{r04378}{807}
\draw[edge] (c04051.south -| 876,0) .. controls (865,2370) and (855,2385) .. (r04378.north -| 846,0);
\vv{r04378}{858.5}{c04677}{907.6}
\vv{r04378}{828.3}{c00013}{806}
\draw[edge] (c00013.south -| 800,0) -- (799,3400) .. controls (799,3480) and (780,3530) .. (r03876.north -| 747,0);
\vv{c04677}{1077.4}{r06975}{1161.3}
\draw[edge] (c00058.south -| 1184.5,0) .. controls (1186,2350) and (1189,2550) .. (r06975.north -| 1191,0);
\vv{c00002b}{1320}{r06975}{1219}
\vv{r06975}{1165}{c04734}{1091}
\vv{r06975}{1191}{c00009}{1191}
\vv{r06975}{1221.6}{c00003}{1332}
\vv{c04734}{1015.3}{r01127}{1015.3}
\vv{r01127}{1016.6}{c00130}{1016.6}
\draw[edge] (r01127.south -| 1056.3,0) .. controls (1085,3100) and (1125,3130) .. (c00001d.north -| 1145.6,0);
\vv{c00014}{873}{r00181}{876.7}
\draw[edge] (c00130.south -| 940,0) .. controls (925,3312) and (912,3325) .. (r00181.north -| 898,0);
\draw[edge] (r00181.west |- 0,3381) -- (c00020.east |- 0,3443);
\vv{r00181}{876.5}{c00001e}{876.5}
\vv{c00020}{624.5}{r03876}{690.8}
\vv{blanka}{725.5}{r03876}{725.5}
\draw[edge] (r03876.south -| 685.7,0) .. controls (650,3675) and (615,3700) .. (blankb.north -| 589.8,0);
\vv{r03876}{725.5}{c02188}{725.5}
\draw[edge] (r03876.east |- 0,3642.7) -- (c00002c.north -| 890.8,0);
\vv{r01519}{1436}{c00257}{1436}
\vv{c00257}{1436}{r01538}{1436}
\draw[edge] (r01538.south -| 1428.7,0) .. controls (1422,1160) and (1415,1190) .. (c00204.north -| 1409.5,0);
\vv{r01538}{1444}{c00001c}{1477.8}
\vv{c00204}{1387.6}{r08570}{1387.6}
\vv{r08570}{1380}{c00022}{1345}
\vv{r08570}{1394}{c00577}{1427.8}
\vv{c00010}{1190}{r00212}{1221}
\draw[edge] (c00022.south -| 1314,0) .. controls (1300,1775) and (1280,1820) .. (r00212.north -| 1249,0);
\vv{r00212}{1242.5}{c00024}{1265.7}
\draw[edge] (r00212.south -| 1222.4,0) .. controls (1205,1950) and (1195,2030) .. (c00058.north -| 1186,0);
\end{tikzpicture}
\end{document}
